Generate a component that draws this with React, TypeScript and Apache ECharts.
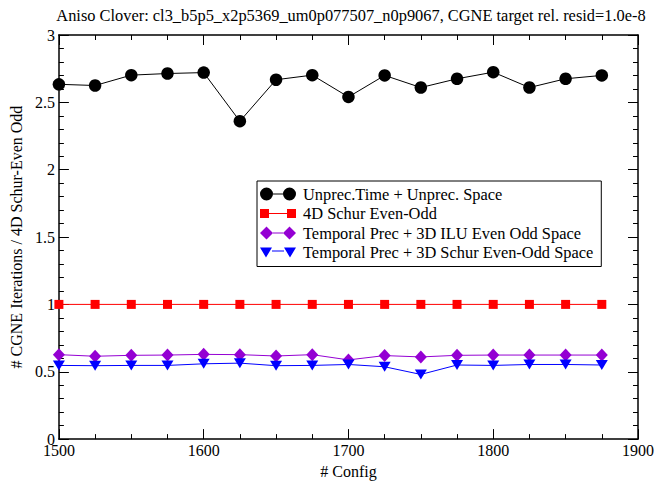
import React, { useEffect, useRef } from "react";
import * as echarts from "echarts";

const configs = [1500, 1525, 1550, 1575, 1600, 1625, 1650, 1675, 1700, 1725, 1750, 1775, 1800, 1825, 1850, 1875];
const unprec = [2.634, 2.625, 2.702, 2.714, 2.721, 2.36, 2.668, 2.702, 2.54, 2.70, 2.61, 2.675, 2.724, 2.61, 2.675, 2.70];
const schur4d = [1.0, 1.0, 1.0, 1.0, 1.0, 1.0, 1.0, 1.0, 1.0, 1.0, 1.0, 1.0, 1.0, 1.0, 1.0, 1.0];
const ilu3d = [0.627, 0.615, 0.622, 0.624, 0.629, 0.627, 0.617, 0.627, 0.588, 0.62, 0.61, 0.622, 0.624, 0.624, 0.624, 0.624];
const schur3d = [0.547, 0.545, 0.547, 0.547, 0.559, 0.564, 0.545, 0.547, 0.554, 0.537, 0.48, 0.55, 0.547, 0.554, 0.554, 0.55];

const seriesNames = [
  "Unprec.Time + Unprec. Space",
  "4D Schur Even-Odd",
  "Temporal Prec + 3D ILU Even Odd Space",
  "Temporal Prec + 3D Schur Even-Odd Space",
];
const titleText = "Aniso Clover: cl3_b5p5_x2p5369_um0p077507_n0p9067, CGNE target rel. resid=1.0e-8";
const xTitle = "# Config";
const yTitle = "# CGNE Iterations / 4D Schur-Even Odd";

const FONT = "Liberation Serif";

const iconCircle =
  "path://M0,6.5 A6.5,6.5 0 1,0 13,6.5 A6.5,6.5 0 1,0 0,6.5 Z M23,6.5 A6.5,6.5 0 1,0 36,6.5 A6.5,6.5 0 1,0 23,6.5 Z M13,6 L23,6 L23,7 L13,7 Z";
const iconSquare =
  "path://M0,0 L9,0 L9,9 L0,9 Z M27,0 L36,0 L36,9 L27,9 Z M9,4 L27,4 L27,5 L9,5 Z";
const iconDiamond =
  "path://M0,6.5 L6.5,0 L13,6.5 L6.5,13 Z M23,6.5 L29.5,0 L36,6.5 L29.5,13 Z M13,6 L23,6 L23,7 L13,7 Z";
const iconTriangle =
  "path://M0,0 L12,0 L6,10 Z M24,0 L36,0 L30,10 Z M12,3 L24,3 L24,4 L12,4 Z";

function pairs(ys: number[]) {
  return configs.map((x, i) => [x, ys[i]]);
}

export default function App() {
  const ref = useRef<HTMLDivElement>(null);
  useEffect(() => {
    if (!ref.current) return;
    const chart = echarts.init(ref.current, undefined, { renderer: "svg" });
    const axisLine = { show: true, onZero: false, lineStyle: { color: "#000", width: 1.5 } };
    const axisTick = { show: true, inside: true, length: 10, lineStyle: { color: "#000", width: 1 } };
    const minorBase = { show: true, length: 5, lineStyle: { color: "#000", width: 1 } };
    const mkLine = (name: string, data: number[], color: string, symbol: string, size: any, rotate = 0) => ({
      name,
      type: "line",
      data: pairs(data),
      symbol,
      symbolSize: size,
      symbolRotate: rotate,
      showAllSymbol: true,
      lineStyle: { color, width: 1 },
      itemStyle: { color, borderWidth: 0 },
      emphasis: { disabled: true },
      z: 3,
    });
    chart.setOption({
      animation: false,
      backgroundColor: "#fff",
      textStyle: { fontFamily: FONT },
      title: {
        text: titleText,
        left: 346,
        textAlign: "center",
        top: 2,
        textStyle: { fontFamily: FONT, fontSize: 16.4, fontWeight: "normal", color: "#000" },
      },
      grid: { left: 51, top: 35, width: 587, height: 411, containLabel: false },
      xAxis: [
        {
          type: "value",
          min: 1500,
          max: 1900,
          interval: 100,
          position: "bottom",
          name: xTitle,
          nameLocation: "middle",
          nameGap: 21,
          nameTextStyle: { fontFamily: FONT, fontSize: 16, color: "#000" },
          axisLabel: { fontFamily: FONT, fontSize: 16, color: "#000", margin: 3, formatter: (v: number) => String(v) },
          axisLine,
          axisTick,
          minorTick: { ...minorBase, splitNumber: 4 },
          splitLine: { show: false },
        },
        {
          type: "value",
          min: 1500,
          max: 1900,
          interval: 100,
          position: "top",
          axisLabel: { show: false },
          axisLine,
          axisTick,
          minorTick: { ...minorBase, splitNumber: 4 },
          splitLine: { show: false },
        },
      ],
      yAxis: [
        {
          type: "value",
          min: 0,
          max: 3,
          interval: 0.5,
          position: "left",
          name: yTitle,
          nameLocation: "middle",
          nameGap: 30,
          nameTextStyle: { fontFamily: FONT, fontSize: 16, color: "#000" },
          axisLabel: { fontFamily: FONT, fontSize: 16, color: "#000", margin: 4, formatter: (v: number) => String(v) },
          axisLine,
          axisTick,
          minorTick: { ...minorBase, splitNumber: 5 },
          splitLine: { show: false },
        },
        {
          type: "value",
          min: 0,
          max: 3,
          interval: 0.5,
          position: "right",
          axisLabel: { show: false },
          axisLine,
          axisTick,
          minorTick: { ...minorBase, splitNumber: 5 },
          splitLine: { show: false },
        },
      ],
      legend: {
        orient: "vertical",
        left: 257,
        top: 181,
        backgroundColor: "#fff",
        borderColor: "#000",
        borderWidth: 1,
        borderRadius: 0,
        padding: [5, 8, 6, 3],
        itemWidth: 36,
        itemHeight: 13,
        itemGap: 3.5,
        selectedMode: false,
        symbolKeepAspect: true,
        itemStyle: { borderWidth: 0 },
        textStyle: { fontFamily: FONT, fontSize: 16.4, color: "#000", padding: [0, 0, 0, 2] },
        data: [
          { name: seriesNames[0], icon: iconCircle },
          { name: seriesNames[1], icon: iconSquare },
          { name: seriesNames[2], icon: iconDiamond },
          { name: seriesNames[3], icon: iconTriangle },
        ],
      },
      series: [
        mkLine(seriesNames[0], unprec, "#000000", "circle", 12.5),
        mkLine(seriesNames[1], schur4d, "#ff0000", "rect", 9),
        mkLine(seriesNames[2], ilu3d, "#9400d3", "diamond", [12, 13]),
        mkLine(seriesNames[3], schur3d, "#0000ff", "triangle", [12, 10], 180),
      ],
    });
    return () => chart.dispose();
  }, []);
  return <div ref={ref} style={{ position: "absolute", left: 0, top: 0, width: 657, height: 484 }} />;
}
